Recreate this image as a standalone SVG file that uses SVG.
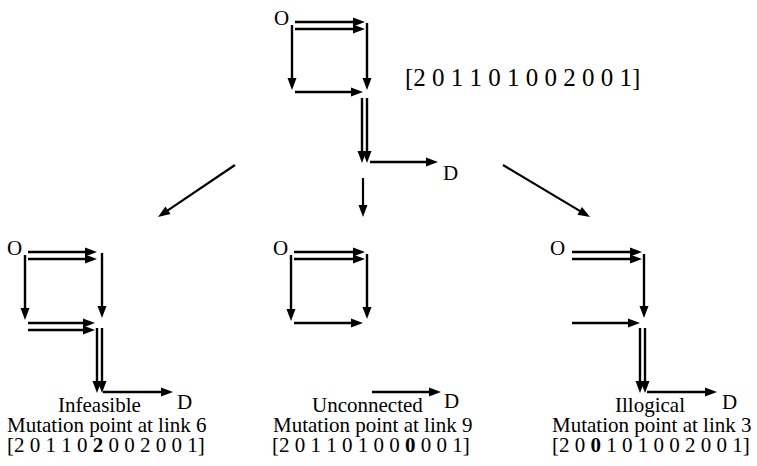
<svg xmlns="http://www.w3.org/2000/svg" width="757" height="466" viewBox="0 0 757 466">
  <style>
    .ln { stroke: #000; stroke-width: 2.4; fill: none; marker-end: url(#head); }
    .cn { stroke: #000; stroke-width: 2.2; fill: none; marker-end: url(#head); }
    text { font-family: "Liberation Serif", "Times New Roman", serif; fill: #000; }
    .lbl { font-size: 21px; }
    .big { font-size: 25px; }
    .b { font-weight: bold; }
  </style>
  <defs>
    <marker id="head" markerUnits="userSpaceOnUse" markerWidth="12" markerHeight="9" refX="2" refY="4.5" orient="auto" overflow="visible">
      <path d="M0,0 L12,4.5 L0,9 Z" fill="#000"/>
    </marker>
  </defs>
  <rect width="757" height="466" fill="#fff"/>

  <!-- parent route -->
  <g id="parent">
    <text class="lbl" x="274" y="25">O</text>
    <line class="ln" x1="295" y1="22" x2="355" y2="22"/>
    <line class="ln" x1="295" y1="29" x2="355" y2="29"/>
    <line class="ln" x1="292" y1="25" x2="292" y2="80"/>
    <line class="ln" x1="367" y1="23" x2="367" y2="80"/>
    <line class="ln" x1="295" y1="92" x2="353" y2="92"/>
    <line class="ln" x1="362" y1="98" x2="362" y2="153"/>
    <line class="ln" x1="367" y1="98" x2="367" y2="153"/>
    <line class="ln" x1="370" y1="162" x2="428" y2="162"/>
    <text class="lbl" x="443" y="180">D</text>
    <text class="big" x="405" y="86">[2 0 1 1 0 1 0 0 2 0 0 1]</text>
  </g>

  <!-- mutation branches -->
  <g id="connectors">
    <line class="cn" x1="235" y1="165" x2="166.3" y2="211.4"/>
    <line class="cn" x1="363" y1="178" x2="363" y2="207"/>
    <line class="cn" x1="503" y1="165" x2="581.4" y2="211.9"/>
  </g>

  <!-- child: infeasible -->
  <g id="infeasible">
    <text class="lbl" x="7" y="255">O</text>
    <line class="ln" x1="28" y1="252" x2="87" y2="252"/>
    <line class="ln" x1="28" y1="259" x2="87" y2="259"/>
    <line class="ln" x1="25" y1="255" x2="25" y2="310"/>
    <line class="ln" x1="102" y1="253" x2="102" y2="308"/>
    <line class="ln" x1="28" y1="323" x2="85" y2="323"/>
    <line class="ln" x1="28" y1="330" x2="85" y2="330"/>
    <line class="ln" x1="97" y1="328" x2="97" y2="383"/>
    <line class="ln" x1="102" y1="328" x2="102" y2="383"/>
    <line class="ln" x1="103" y1="392" x2="163" y2="392"/>
    <text class="lbl" x="177" y="409">D</text>
    <text class="lbl" x="58" y="412">Infeasible</text>
    <text class="lbl" x="7" y="432">Mutation point at link 6</text>
    <text class="lbl" x="7" y="452">[2 0 1 1 0 <tspan class="b">2</tspan> 0 0 2 0 0 1]</text>
  </g>

  <!-- child: unconnected -->
  <g id="unconnected">
    <text class="lbl" x="273" y="255">O</text>
    <line class="ln" x1="294" y1="252" x2="355" y2="252"/>
    <line class="ln" x1="294" y1="259" x2="355" y2="259"/>
    <line class="ln" x1="291" y1="255" x2="291" y2="311"/>
    <line class="ln" x1="367" y1="254" x2="367" y2="309"/>
    <line class="ln" x1="294" y1="323" x2="353" y2="323"/>
    <line class="ln" x1="372" y1="392" x2="431" y2="392"/>
    <text class="lbl" x="444" y="408">D</text>
    <text class="lbl" x="312" y="412">Unconnected</text>
    <text class="lbl" x="273" y="432">Mutation point at link 9</text>
    <text class="lbl" x="272" y="452">[2 0 1 1 0 1 0 0 <tspan class="b">0</tspan> 0 0 1]</text>
  </g>

  <!-- child: illogical -->
  <g id="illogical">
    <text class="lbl" x="550" y="255">O</text>
    <line class="ln" x1="572" y1="252" x2="632" y2="252"/>
    <line class="ln" x1="572" y1="259" x2="632" y2="259"/>
    <line class="ln" x1="644" y1="254" x2="644" y2="308"/>
    <line class="ln" x1="572" y1="323" x2="630" y2="323"/>
    <line class="ln" x1="640" y1="328" x2="640" y2="383"/>
    <line class="ln" x1="645" y1="328" x2="645" y2="383"/>
    <line class="ln" x1="647" y1="392" x2="707" y2="392"/>
    <text class="lbl" x="722" y="409">D</text>
    <text class="lbl" x="615" y="412">Illogical</text>
    <text class="lbl" x="552" y="432">Mutation point at link 3</text>
    <text class="lbl" x="552" y="452">[2 0 <tspan class="b">0</tspan> 1 0 1 0 0 2 0 0 1]</text>
  </g>
</svg>
